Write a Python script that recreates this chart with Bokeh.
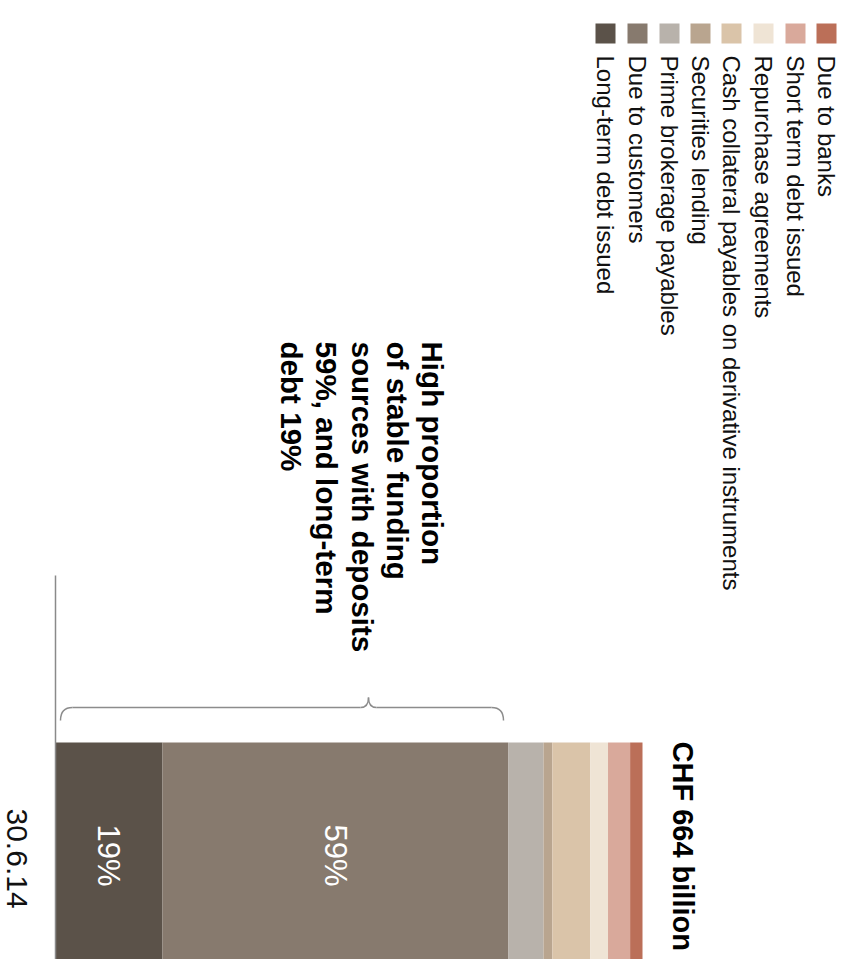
import math
from bokeh.plotting import figure
from bokeh.models import Range1d, Label, ColumnDataSource
from bokeh.embed import file_html
from bokeh.resources import INLINE

# ---------------- data ----------------
categories = [
    "Long-term debt issued",
    "Due to customers",
    "Prime brokerage payables",
    "Securities lending",
    "Cash collateral payables on derivative instruments",
    "Repurchase agreements",
    "Short term debt issued",
    "Due to banks",
]
values_chf_bn = [121, 391, 40, 10, 43, 20, 25, 14]
colors = ["#5b5249", "#877a6e", "#b8b2ab", "#b9a58f", "#dac4a9", "#efe4d5", "#d9a99b", "#bb6f58"]
bar_labels = ["19%", "59%", "", "", "", "", "", ""]
total_label = "CHF 664 billion"
date_label = "30.6.14"
note_lines = [
    "High proportion",
    "of stable funding",
    "sources with deposits",
    "59%, and long-term",
    "debt 19%",
]

# ---------------- layout ----------------
W, H = 846, 959
BAR_LEFT_PX, BAR_RIGHT_PX = 55, 642
total = sum(values_chf_bn)
k = (BAR_RIGHT_PX - BAR_LEFT_PX) / total  # px per CHF bn


def xd(px):
    return (px - BAR_LEFT_PX) / k


p = figure(width=W, height=H,
           x_range=Range1d(xd(0), xd(W)), y_range=Range1d(H, 0),
           output_backend="svg", toolbar_location=None,
           x_axis_location=None, y_axis_location=None,
           min_border=0, min_border_left=0, min_border_right=0,
           min_border_top=0, min_border_bottom=0)
p.grid.visible = False
p.outline_line_color = None
p.background_fill_color = "white"
p.border_fill_color = "white"

rights = []
acc = 0
for v in values_chf_bn:
    acc += v
    rights.append(acc)
lefts = [r - v for r, v in zip(rights, values_chf_bn)]

src = ColumnDataSource(dict(left=lefts, right=rights, color=colors, cat=categories))
p.hbar(y=852, height=220, left="left", right="right", fill_color="color",
       line_color=None, source=src)

# percentage labels in bars
lab_x = [(l + r) / 2 for l, r, t in zip(lefts, rights, bar_labels) if t]
lab_t = [t for t in bar_labels if t]
for x, t in zip(lab_x, lab_t):
    px = BAR_LEFT_PX + x * k
    p.add_layout(Label(x=px, y=H - 855, x_units="screen", y_units="screen", text=t,
                       angle=-math.pi / 2, text_align="center", text_baseline="middle",
                       text_color="white", text_font="Liberation Sans",
                       text_font_size="31px"))

# axis line
p.segment(x0=[0], y0=[575], x1=[0], y1=[H], line_color="#8a8a8a", line_width=1.5)

# brace over long-term + customers
bc = "#8c8c8c"
bl, br, tip = 60, 503, 368
yl, ye, yt = 707, 720, 697
p.segment(x0=[xd(bl + 12), xd(tip + 8)], y0=[yl, yl], x1=[xd(tip - 8), xd(br - 12)], y1=[yl, yl],
          line_color=bc, line_width=1.5)
p.quadratic(x0=[xd(bl), xd(tip - 8), xd(tip), xd(br - 12)],
            y0=[ye, yl, yt, yl],
            x1=[xd(bl + 12), xd(tip), xd(tip + 8), xd(br)],
            y1=[yl, yt, yl, ye],
            cx=[xd(bl), xd(tip), xd(tip), xd(br)],
            cy=[yl, yl, yl, yl],
            line_color=bc, line_width=1.5)

# legend (reverse order, right to left)
leg_x = [605, 637, 669, 700, 731, 763, 795, 826]
p.rect(x=[xd(x) for x in leg_x], y=33, width=20, height=20,
       width_units="screen", height_units="screen",
       fill_color=colors, line_color=None)
for x, c in zip(leg_x, categories):
    p.add_layout(Label(x=x, y=H - 55, x_units="screen", y_units="screen", text=c,
                       angle=-math.pi / 2, text_align="left", text_baseline="middle",
                       text_color="#111111", text_font="Liberation Sans",
                       text_font_size="24px"))

# total title
p.add_layout(Label(x=682, y=H - 741, x_units="screen", y_units="screen", text=total_label,
                   angle=-math.pi / 2, text_align="left", text_baseline="middle",
                   text_color="black", text_font="Liberation Sans", text_font_style="bold",
                   text_font_size="29px"))

# note
for i, line in enumerate(note_lines):
    p.add_layout(Label(x=432 - 35.2 * i, y=H - 341, x_units="screen", y_units="screen", text=line,
                       angle=-math.pi / 2, text_align="left", text_baseline="middle",
                       text_color="black", text_font="Liberation Sans", text_font_style="bold",
                       text_font_size="29.6px"))

# date
p.add_layout(Label(x=16, y=H - 808, x_units="screen", y_units="screen", text=date_label,
                   angle=-math.pi / 2, text_align="left", text_baseline="middle",
                   text_color="#111111", text_font="Liberation Sans",
                   text_font_size="30px"))

open("out.html", "w").write(file_html(p, INLINE))
